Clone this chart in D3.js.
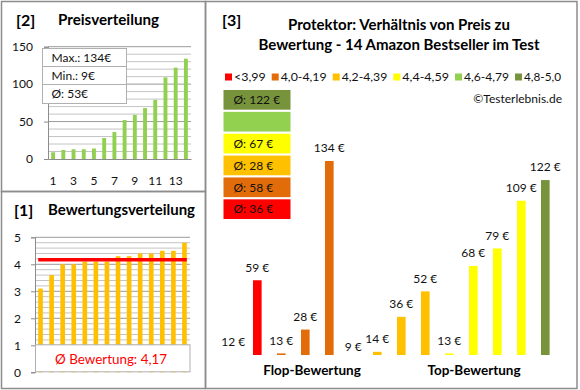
<!DOCTYPE html>
<html>
<head>
<meta charset="utf-8">
<script src="https://cdn.jsdelivr.net/npm/d3@7"></script>
<style>
  html, body { margin: 0; padding: 0; background: #fff; }
  svg { display: block; font-family: Lato, "Open Sans", sans-serif; }
</style>
</head>
<body>
<div id="chart"></div>
<script>
// data (products ordered by rating, flop -> top)
const prices = [12, 59, 13, 28, 134, 9, 14, 36, 52, 13, 68, 79, 109, 122];
const ratings = [3.1, 3.6, 4.0, 4.0, 4.1, 4.1, 4.1, 4.3, 4.3, 4.4, 4.4, 4.5, 4.5, 4.8];
const productGroup = [0, 0, 1, 1, 1, 2, 2, 2, 2, 3, 3, 3, 3, 5];
const groupLabels = ['<3,99', '4,0-4,19', '4,2-4,39', '4,4-4,59', '4,6-4,79', '4,8-5,0'];
const groupColors = ['#ff0000', '#e36c0a', '#ffc000', '#ffff00', '#92d050', '#77933c'];
const priceTicks = [0, 50, 100, 150];
const ratingTicks = [0, 1, 2, 3, 4, 5];
const ratingAvgText = '4,17';
const ratingAvg = 4.17;

const width = 580;
const height = 390;
const border = '#8c8c8c';

const svg = d3
  .select('#chart')
  .append('svg')
  .attr('width', width)
  .attr('height', height);

// panel frames
svg.append('rect').attr('x', 1.5).attr('y', 1.5).attr('width', 204).attr('height', 190)
  .attr('fill', 'none').attr('stroke', border).attr('stroke-width', 1.5);
svg.append('rect').attr('x', 1.5).attr('y', 191.5).attr('width', 204).attr('height', 197)
  .attr('fill', 'none').attr('stroke', border).attr('stroke-width', 1.5);
svg.append('rect').attr('x', 205.5).attr('y', 1.5).attr('width', 371.5).attr('height', 387)
  .attr('fill', 'none').attr('stroke', border).attr('stroke-width', 1.5);

function panelTitle(num, title, x, y, tx, tw) {
  svg.append('text').attr('x', x).attr('y', y).attr('dy', '0.35em')
    .style('font-size', '16px').style('font-weight', 'bold').text(num);
  if (title)
    svg.append('text').attr('x', tx).attr('y', y).attr('dy', '0.35em')
      .attr('textLength', tw).attr('lengthAdjust', 'spacingAndGlyphs')
      .style('font-size', '14.5px').style('font-weight', 'bold').text(title);
}

// ---------- [2] Preisverteilung ----------
panelTitle('[2]', 'Preisverteilung', 16, 20, 58, 101);

const sortedPrices = d3.sort(prices);
const xP = d3.scaleBand().domain(d3.range(1, 15)).range([48, 191]).paddingInner(0.62).paddingOuter(0.31);
const yP = d3.scaleLinear().domain([0, 150]).range([159, 46.7]);

const gP = svg.append('g');
gP.selectAll('line.minor')
  .data(d3.range(10, 151, 10))
  .join('line')
  .attr('x1', 48).attr('x2', 191)
  .attr('y1', (d) => yP(d)).attr('y2', (d) => yP(d))
  .attr('stroke', (d) => (d % 50 === 0 ? '#9a9a9a' : '#c4c4c4'))
  .attr('stroke-width', 1);

gP.selectAll('rect')
  .data(sortedPrices)
  .join('rect')
  .attr('x', (d, i) => xP(i + 1))
  .attr('width', xP.bandwidth())
  .attr('y', (d) => yP(d))
  .attr('height', (d) => yP(0) - yP(d))
  .attr('fill', '#92d050');

const axP = gP.append('g').attr('transform', 'translate(48,0)')
  .call(d3.axisLeft(yP).tickValues(priceTicks).tickSize(4).tickPadding(11));
axP.select('.domain').attr('stroke', '#8c8c8c');
axP.selectAll('.tick line').attr('stroke', '#8c8c8c');
axP.selectAll('text').style('font-size', '12px').attr('fill', '#111').style('font-family', 'Lato');

const axPx = gP.append('g').attr('transform', `translate(0,${yP(0)})`)
  .call(d3.axisBottom(xP).tickValues([1, 3, 5, 7, 9, 11, 13]).tickSize(0).tickPadding(17));
axPx.select('.domain').attr('stroke', '#8c8c8c');
axPx.selectAll('text').style('font-size', '12px').attr('fill', '#111').style('font-family', 'Lato');

// stats box
const stats = [
  'Max.: ' + d3.max(prices) + '€',
  'Min.: ' + d3.min(prices) + '€',
  'Ø: ' + Math.round(d3.mean(prices)) + '€',
];
const statRows = [48.5, 66.5, 84.5, 103.5];
const gS = svg.append('g');
gS.append('rect').attr('x', 42.5).attr('y', statRows[0]).attr('width', 84)
  .attr('height', statRows[3] - statRows[0]).attr('fill', '#fff').attr('stroke', '#b0b0b0');
gS.selectAll('line')
  .data(statRows.slice(1, 3))
  .join('line')
  .attr('x1', 42.5).attr('x2', 126.5)
  .attr('y1', (d) => d).attr('y2', (d) => d)
  .attr('stroke', '#b0b0b0');
gS.selectAll('text')
  .data(stats)
  .join('text')
  .attr('x', 51.5)
  .attr('y', (d, i) => (statRows[i] + statRows[i + 1]) / 2)
  .attr('dy', '0.36em')
  .style('font-size', '12px')
  .attr('fill', '#111')
  .text((d) => d);

// ---------- [1] Bewertungsverteilung ----------
panelTitle('[1]', 'Bewertungsverteilung', 14, 210, 48, 147);

const xR = d3.scaleBand().domain(d3.range(ratings.length)).range([35, 190]).paddingInner(0.58).paddingOuter(0.29);
const yR = d3.scaleLinear().domain([0, 5]).range([372.3, 237.3]);

const gR = svg.append('g');
gR.selectAll('line.grid')
  .data(d3.range(1, 26))
  .join('line')
  .attr('x1', 35).attr('x2', 190)
  .attr('y1', (d) => yR(d / 5)).attr('y2', (d) => yR(d / 5))
  .attr('stroke', (d) => (d % 5 === 0 ? '#9a9a9a' : '#c4c4c4'));

gR.selectAll('rect')
  .data(ratings)
  .join('rect')
  .attr('x', (d, i) => xR(i))
  .attr('width', xR.bandwidth())
  .attr('y', (d) => yR(d))
  .attr('height', (d) => yR(0) - yR(d))
  .attr('fill', '#ffc000');

const axR = gR.append('g').attr('transform', 'translate(35,0)')
  .call(d3.axisLeft(yR).tickValues(ratingTicks).tickFormat(d3.format('d')).tickSize(4).tickPadding(10));
axR.select('.domain').attr('stroke', '#8c8c8c');
axR.selectAll('.tick line').attr('stroke', '#8c8c8c');
axR.selectAll('text').style('font-size', '12px').attr('fill', '#111').style('font-family', 'Lato');

gR.append('line')
  .attr('x1', xR(0)).attr('x2', xR(ratings.length - 1) + xR.bandwidth())
  .attr('y1', yR(ratingAvg)).attr('y2', yR(ratingAvg))
  .attr('stroke', '#ff0000').attr('stroke-width', 3.5);

gR.append('rect').attr('x', 35.5).attr('y', yR(1) - 0.5).attr('width', 154.5)
  .attr('height', yR(0) - yR(1)).attr('fill', '#fff').attr('stroke', '#b0b0b0');
gR.append('text').attr('x', 111).attr('y', (yR(0) + yR(1)) / 2).attr('dy', '0.36em')
  .attr('text-anchor', 'middle').attr('textLength', 112).attr('lengthAdjust', 'spacingAndGlyphs')
  .style('font-size', '14px').attr('fill', '#ff0000')
  .text('Ø Bewertung: ' + ratingAvgText);

// ---------- [3] Preis zu Bewertung ----------
panelTitle('[3]', null, 222, 20);
const title = ['Protektor: Verhältnis von Preis zu', 'Bewertung - 14 Amazon Bestseller im Test'];
svg.selectAll('text.title')
  .data(title)
  .join('text')
  .attr('class', 'title')
  .attr('x', 399)
  .attr('y', (d, i) => 25 + i * 20)
  .attr('dy', '0.36em')
  .attr('text-anchor', 'middle')
  .style('font-size', '15px')
  .style('font-weight', 'bold')
  .text((d) => d);

// legend
const legendX = [225, 271.7, 332.7, 393.3, 455, 515, 567];
const gL = svg.append('g');
groupLabels.forEach((label, i) => {
  gL.append('rect').attr('x', legendX[i]).attr('y', 73.5).attr('width', 7).attr('height', 7).attr('fill', groupColors[i]);
  gL.append('text').attr('x', legendX[i] + 9).attr('y', 77).attr('dy', '0.36em')
    .attr('textLength', legendX[i + 1] - legendX[i] - 15).attr('lengthAdjust', 'spacingAndGlyphs')
    .style('font-size', '12px').attr('fill', '#111').text(label);
});

svg.append('text').attr('x', 562).attr('y', 98.5).attr('dy', '0.36em')
  .attr('text-anchor', 'end').style('font-size', '12px').attr('fill', '#111')
  .text('©Testerlebnis.de');

// average price per rating group
const groupAvg = groupLabels.map((g, gi) => {
  const vals = prices.filter((p, i) => productGroup[i] === gi);
  return vals.length ? Math.round(d3.mean(vals)) : null;
});
const yBox = d3.scaleBand().domain(d3.range(groupLabels.length).reverse()).range([90, 219]).paddingInner(0.1);
const gB = svg.append('g');
gB.selectAll('rect')
  .data(groupAvg)
  .join('rect')
  .attr('x', 223.5)
  .attr('width', 67)
  .attr('y', (d, i) => yBox(i))
  .attr('height', yBox.bandwidth())
  .attr('fill', (d, i) => groupColors[i]);
gB.selectAll('text')
  .data(groupAvg)
  .join('text')
  .attr('x', 233.5)
  .attr('y', (d, i) => yBox(i) + yBox.bandwidth() / 2)
  .attr('dy', '0.36em')
  .style('font-size', '12px')
  .attr('fill', '#111')
  .text((d) => (d === null ? '' : 'Ø: ' + d + ' €'));

// bars
const xM = d3.scaleBand().domain(d3.range(prices.length)).range([221.3, 557.3]).paddingInner(0.64).paddingOuter(0.32);
const yM = d3.scaleLinear().domain([12, 134]).range([355, 161]);
const gM = svg.append('g');
gM.selectAll('rect')
  .data(prices)
  .join('rect')
  .attr('x', (d, i) => xM(i))
  .attr('width', xM.bandwidth())
  .attr('y', (d) => Math.min(yM(d), yM.range()[0]))
  .attr('height', (d) => Math.max(0, yM.range()[0] - yM(d)))
  .attr('fill', (d, i) => groupColors[productGroup[i]]);
gM.selectAll('text')
  .data(prices)
  .join('text')
  .attr('x', (d, i) => xM(i) + xM.bandwidth() / 2)
  .attr('y', (d) => yM(d) - 13)
  .attr('dy', '0.36em')
  .attr('text-anchor', 'middle')
  .style('font-size', '12px')
  .attr('fill', '#111')
  .text((d) => d + ' €');

svg.append('text').attr('x', 312).attr('y', 370).attr('dy', '0.36em').attr('text-anchor', 'middle')
  .style('font-size', '13.5px').style('font-weight', 'bold').text('Flop-Bewertung');
svg.append('text').attr('x', 474).attr('y', 370).attr('dy', '0.36em').attr('text-anchor', 'middle')
  .style('font-size', '13.5px').style('font-weight', 'bold').text('Top-Bewertung');
</script>
</body>
</html>
